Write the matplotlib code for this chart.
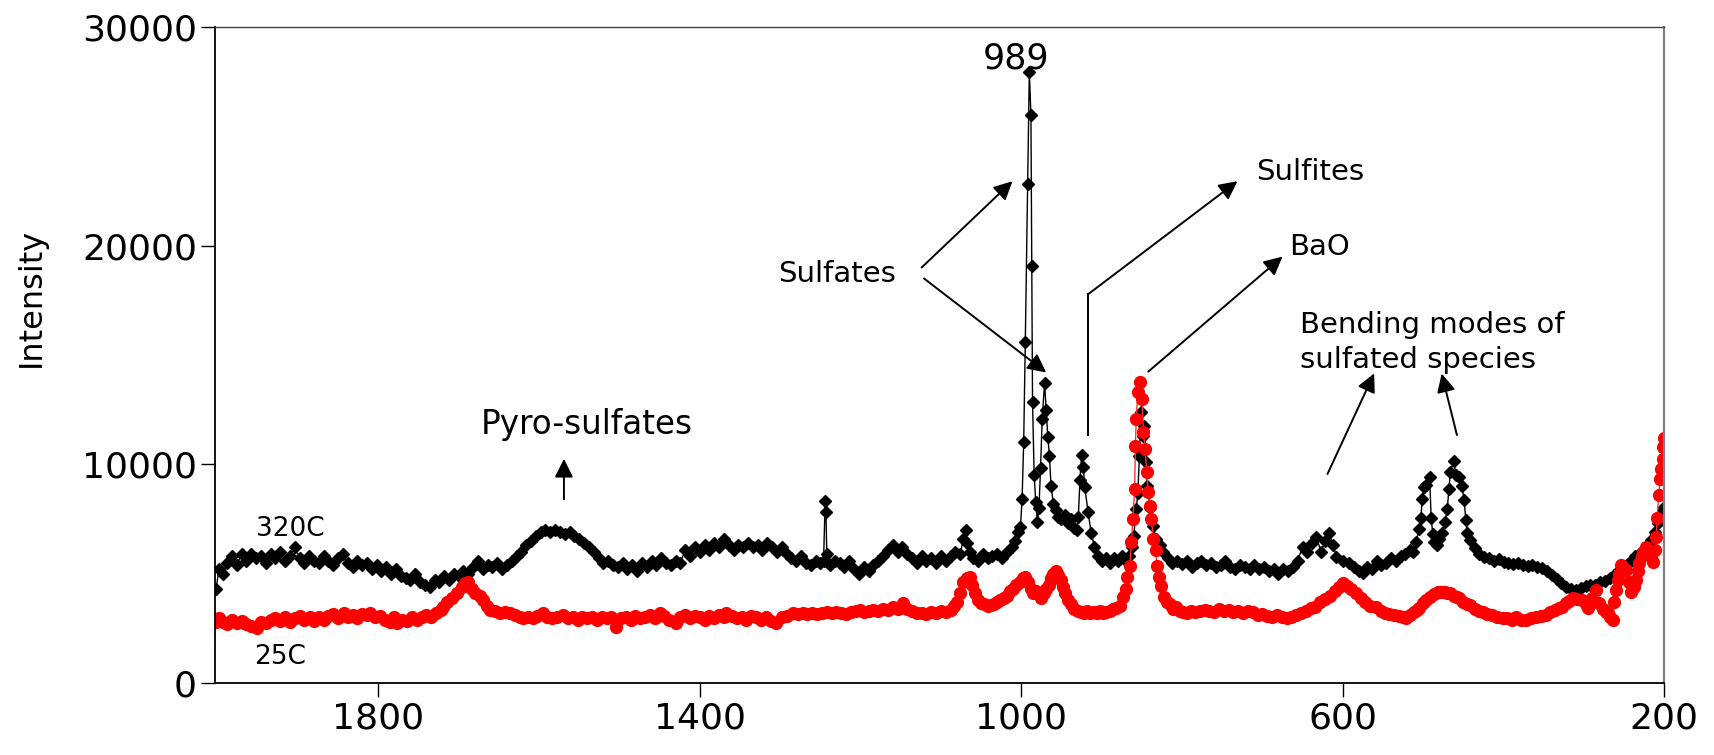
import matplotlib
matplotlib.use('Agg')
from matplotlib import pyplot as plt

# Raman shift (cm-1) and intensity, 320C spectrum
x_320 = [2002, 1998, 1993, 1988, 1982, 1976, 1970, 1964, 1958, 1952, 1946, 1940, 1934, 1928, 1922, 1916,
         1910, 1904, 1898, 1892, 1886, 1880, 1874, 1868, 1862, 1856, 1850, 1844, 1838, 1832, 1826, 1820,
         1814, 1808, 1802, 1796, 1790, 1784, 1778, 1772, 1766, 1760, 1754, 1748, 1742, 1736, 1730, 1724,
         1718, 1712, 1706, 1700, 1694, 1688, 1682, 1676, 1670, 1664, 1658, 1652, 1646, 1640, 1634, 1628,
         1622, 1616, 1610, 1604, 1598, 1592, 1586, 1580, 1574, 1568, 1562, 1556, 1550, 1544, 1538, 1532,
         1526, 1520, 1514, 1508, 1502, 1496, 1490, 1484, 1478, 1472, 1466, 1460, 1454, 1448, 1442, 1436,
         1430, 1424, 1418, 1412, 1406, 1400, 1394, 1388, 1382, 1376, 1370, 1364, 1358, 1352, 1346, 1340,
         1334, 1328, 1322, 1316, 1310, 1304, 1298, 1292, 1286, 1280, 1274, 1268, 1262, 1256, 1250, 1246,
         1244, 1243, 1242, 1238, 1232, 1226, 1220, 1214, 1208, 1202, 1196, 1190, 1184, 1178, 1172, 1166,
         1160, 1154, 1148, 1142, 1136, 1130, 1124, 1118, 1112, 1106, 1100, 1094, 1088, 1082, 1076, 1072,
         1069, 1067, 1064, 1060, 1054, 1048, 1042, 1036, 1030, 1024, 1018, 1012, 1008, 1004, 1001, 999,
         997, 995, 992, 990, 988, 987, 986, 984, 982, 980, 978, 976, 974, 971, 969, 967,
         965, 963, 960, 957, 954, 950, 946, 942, 938, 934, 931, 929, 927, 925, 923, 921,
         917, 913, 909, 905, 900, 895, 890, 885, 880, 875, 870, 866, 862, 860, 857, 855,
         853, 851, 849, 847, 845, 843, 840, 836, 832, 828, 824, 818, 812, 806, 800, 794,
         788, 782, 776, 770, 764, 758, 752, 746, 740, 734, 728, 722, 716, 710, 704, 698,
         692, 686, 680, 674, 668, 662, 656, 650, 644, 638, 633, 627, 622, 617, 612, 608,
         600, 592, 586, 580, 575, 570, 564, 558, 552, 546, 540, 534, 528, 522, 517, 513,
         509, 505, 503, 501, 499, 496, 492, 490, 488, 486, 483, 480, 476, 473, 470, 468,
         466, 462, 459, 455, 452, 449, 447, 445, 442, 436, 430, 424, 418, 412, 406, 400,
         394, 388, 382, 376, 370, 364, 358, 352, 346, 340, 334, 328, 322, 316, 310, 304,
         298, 292, 286, 280, 274, 268, 262, 256, 250, 245, 240, 236, 232, 228, 224, 220,
         216, 212, 208, 205, 202, 200]
y_320 = [4300, 5200, 5000, 5500, 5800, 5400, 5900, 5600, 5900, 5700, 5800, 5500, 5900, 5700, 6000, 5600,
         5800, 6200, 5700, 5500, 5800, 5600, 5500, 5800, 5600, 5400, 5700, 5900, 5500, 5300, 5600, 5400,
         5500, 5200, 5400, 5100, 5300, 5000, 5200, 4900, 4800, 4700, 5000, 4600, 4500, 4400, 4700, 4600,
         4900, 4700, 5000, 4900, 5100, 5000, 5300, 5600, 5200, 5400, 5300, 5500, 5200, 5400, 5600, 5800,
         6000, 6300, 6500, 6700, 6900, 7000, 6900, 7000, 6900, 6800, 6900, 6700, 6600, 6400, 6200, 6000,
         5700, 5500, 5600, 5400, 5300, 5500, 5200, 5400, 5100, 5500, 5300, 5600, 5400, 5700, 5500, 5400,
         5600, 5500, 6100, 5800, 6200, 6000, 6300, 6100, 6400, 6200, 6600, 6300, 6100, 6300, 6200, 6400,
         6200, 6300, 6100, 6400, 6200, 6000, 6200, 5900, 5700, 5600, 5800, 5500, 5400, 5600, 5500, 5600,
         8300, 7800, 5900, 5400, 5600, 5500, 5300, 5600, 5200, 5000, 5300, 5100, 5400, 5600, 5800, 6100,
         6300, 6000, 6200, 5900, 5700, 5500, 5800, 5600, 5700, 5500, 5800, 5600, 5800, 6000, 5900, 6600,
         7000, 6400, 6000, 5700, 5600, 5900, 5700, 5800, 5900, 5700, 6000, 6200, 6500, 6900, 7150, 8410,
         11020, 15610, 22820, 27955, 25975, 19070, 12850, 9510, 8290, 7380, 8000, 9850, 12070, 13720, 12500, 11265,
         10395, 9000, 8200, 7900, 7600, 7500, 7700, 7300, 7500, 7100, 7000, 7600, 9300, 10425, 9900, 8980,
         7830, 6860, 6235, 5800, 5600, 5700, 5500, 5700, 5600, 5800, 5600, 5800, 6235, 6735, 7955, 8675,
         10395, 12400, 11310, 11770, 10090, 9000, 8000, 7200, 6585, 6300, 5975, 5700, 5500, 5600, 5450, 5600,
         5300, 5500, 5600, 5400, 5500, 5300, 5400, 5600, 5300, 5200, 5400, 5300, 5200, 5400, 5200, 5300,
         5100, 5200, 5000, 5200, 5100, 5300, 5600, 6235, 6000, 6400, 6690, 6000, 6500, 6845, 6300, 5775,
         5600, 5475, 5300, 5100, 5015, 5300, 5200, 5600, 5400, 5500, 5700, 5600, 5800, 5900, 6080, 6005,
         6435, 7040, 7530, 8400, 8950, 9055, 9435, 7530, 6800, 6460, 6310, 6600, 6845, 7350, 7955, 8870,
         9665, 10150, 9500, 9435, 9010, 8370, 7455, 6845, 6540, 6160, 5900, 5775, 5700, 5600, 5650, 5550,
         5500, 5450, 5500, 5400, 5350, 5400, 5300, 5250, 5100, 4940, 4750, 4550, 4400, 4300, 4250, 4350,
         4450, 4480, 4500, 4600, 4650, 4800, 4950, 5150, 5300, 5450, 5625, 5800, 5900, 6000, 6080, 6300,
         6540, 6900, 7300, 7600, 7900, 8060]

# 25C spectrum
x_25 = [2002, 1998, 1993, 1988, 1982, 1976, 1970, 1964, 1958, 1951, 1946, 1940, 1934, 1928, 1922, 1916,
        1910, 1904, 1898, 1892, 1885, 1880, 1874, 1868, 1862, 1856, 1850, 1843, 1838, 1832, 1826, 1820,
        1814, 1810, 1804, 1798, 1792, 1786, 1780, 1777, 1770, 1764, 1758, 1752, 1746, 1740, 1734, 1728,
        1722, 1719, 1714, 1708, 1702, 1696, 1692, 1688, 1684, 1680, 1674, 1670, 1665, 1661, 1655, 1648,
        1642, 1636, 1630, 1624, 1620, 1614, 1608, 1602, 1595, 1590, 1584, 1578, 1570, 1564, 1558, 1552,
        1546, 1540, 1534, 1528, 1522, 1516, 1510, 1504, 1498, 1492, 1486, 1480, 1474, 1468, 1462, 1456,
        1450, 1444, 1438, 1430, 1424, 1418, 1412, 1406, 1400, 1394, 1388, 1382, 1376, 1370, 1367, 1360,
        1354, 1348, 1342, 1336, 1330, 1324, 1318, 1312, 1305, 1298, 1292, 1284, 1278, 1272, 1266, 1260,
        1254, 1248, 1242, 1236, 1230, 1224, 1218, 1212, 1206, 1201, 1196, 1190, 1184, 1178, 1172, 1166,
        1160, 1154, 1147, 1142, 1136, 1130, 1124, 1118, 1112, 1106, 1100, 1094, 1088, 1084, 1080, 1076,
        1072, 1068, 1064, 1061, 1058, 1054, 1050, 1046, 1042, 1038, 1034, 1030, 1026, 1022, 1018, 1014,
        1010, 1006, 1002, 998, 995, 992, 988, 985, 982, 978, 975, 972, 969, 966, 963, 960,
        957, 954, 951, 948, 945, 942, 938, 934, 930, 926, 922, 918, 914, 910, 906, 902,
        898, 894, 890, 886, 882, 877, 873, 870, 868, 865, 863, 861, 859, 858, 857, 855,
        852, 850, 848, 846, 844, 842, 840, 838, 836, 833, 831, 829, 826, 823, 819, 815,
        811, 807, 803, 799, 794, 789, 784, 778, 772, 766, 760, 754, 748, 742, 736, 730,
        724, 718, 712, 706, 700, 694, 688, 682, 676, 670, 664, 658, 652, 646, 640, 634,
        628, 622, 616, 610, 605, 600, 595, 590, 583, 577, 572, 566, 559, 553, 548, 542,
        536, 530, 525, 521, 516, 512, 508, 505, 500, 496, 492, 486, 482, 478, 473, 470,
        467, 462, 458, 455, 450, 446, 442, 436, 430, 426, 420, 414, 408, 401, 396, 390,
        384, 378, 372, 366, 360, 354, 347, 342, 336, 331, 327, 322, 318, 314, 308, 302,
        298, 295, 290, 285, 281, 276, 272, 270, 267, 264, 262, 260, 258, 256, 254, 251,
        248, 244, 241, 238, 235, 233, 231, 228, 226, 223, 220, 217, 214, 212, 210, 209,
        207, 205, 204, 202, 201, 200]
y_25 = [2800, 2960, 2800, 2700, 2900, 2730, 2850, 2700, 2600, 2500, 2800, 2750, 2900, 2960, 2850, 3000,
        2800, 2950, 3050, 2900, 3030, 2850, 3000, 2900, 3050, 3150, 2950, 3185, 3000, 3100, 2950, 3150,
        3100, 3185, 3000, 3050, 2900, 2800, 3000, 2730, 2900, 2850, 3000, 2900, 3030, 3100, 3000, 3200,
        3350, 3490, 3700, 3900, 4100, 4400, 4550, 4630, 4300, 4100, 4000, 3795, 3500, 3340, 3300, 3200,
        3250, 3185, 3100, 3000, 2960, 3000, 2950, 3050, 3185, 3000, 2950, 3000, 3100, 2950, 3000, 2900,
        3000, 2950, 3000, 2900, 3000, 2950, 3000, 2575, 2950, 3000, 2900, 3050, 2950, 3000, 3100, 2950,
        3185, 3050, 2900, 2730, 3000, 3100, 2950, 3050, 3000, 2900, 3050, 2950, 3100, 3000, 3185, 3050,
        2950, 3000, 2900, 3050, 3000, 2900, 3000, 2850, 2730, 3000, 3050, 3185, 3150, 3200, 3150, 3200,
        3150, 3200, 3250, 3200, 3250, 3200, 3150, 3250, 3300, 3340, 3250, 3300, 3350, 3300, 3400, 3350,
        3490, 3400, 3645, 3400, 3300, 3185, 3200, 3150, 3250, 3200, 3300, 3250, 3350, 3500, 3700, 4100,
        4600, 4800, 4850, 4500, 4100, 3800, 3650, 3600, 3500, 3550, 3600, 3700, 3800, 3900, 4000, 4200,
        4300, 4500, 4600, 4800, 4850, 4600, 4300, 4100, 4200, 4050, 3900, 4100, 4300, 4500, 4800, 5000,
        5100, 4950, 4700, 4400, 4100, 3800, 3600, 3400, 3300, 3250, 3200, 3300, 3200, 3250, 3200, 3300,
        3200, 3250, 3300, 3400, 3450, 3500, 3950, 4300, 4860, 5365, 6430, 7500, 8870, 10850, 12070, 13320,
        13780, 12990, 11460, 10700, 9635, 8720, 8110, 7500, 6585, 6080, 5365, 4860, 4450, 3950, 3700, 3600,
        3400, 3490, 3300, 3250, 3200, 3300, 3250, 3300, 3350, 3300, 3250, 3400, 3300, 3350, 3250, 3300,
        3200, 3300, 3250, 3100, 3150, 3050, 3000, 3100, 3030, 2950, 3000, 3100, 3200, 3300, 3450, 3490,
        3700, 3850, 4000, 4200, 4400, 4560, 4450, 4300, 4100, 3900, 3700, 3500, 3490, 3300, 3200, 3150,
        3100, 3050, 3030, 2960, 3100, 3250, 3350, 3415, 3650, 3800, 3950, 4050, 4150, 4175, 4150, 4100,
        4100, 4000, 3950, 3870, 3700, 3600, 3565, 3400, 3300, 3260, 3150, 3100, 3000, 2960, 2950, 2900,
        3000, 2900, 2880, 2950, 3000, 3050, 3110, 3250, 3350, 3450, 3490, 3650, 3750, 3870, 3850, 3795,
        3600, 3415, 3900, 4250, 3645, 3400, 3250, 3185, 3000, 2880, 3720, 4250, 4730, 5000, 5400, 5300,
        5170, 4600, 4175, 4400, 4710, 5100, 5475, 5800, 6000, 6235, 6000, 5800, 5550, 6100, 6690, 7530,
        8600, 9315, 9770, 10230, 10800, 11190]

y_ticks = [0, 10000, 20000, 30000]
x_ticks = [1800, 1400, 1000, 600, 200]

fig = plt.figure(figsize=(17.14, 7.55), dpi=100)
ax = fig.add_axes([0.1255, 0.0954, 0.8455, 0.8688])

ax.plot(x_320, y_320, color='black', lw=1.0, marker='D', markersize=6,
        markerfacecolor='black', markeredgecolor='black')
ax.plot(x_25, y_25, color='#ff3030', lw=1.0, marker='o', markersize=8.5,
        markerfacecolor='#ff0000', markeredgecolor='#ff0000')

ax.set_xlim(2003, 200)
ax.set_ylim(0, 30000)
ax.set_xticks(x_ticks)
ax.set_yticks(y_ticks)
ax.tick_params(direction='out', length=10, width=1.0, pad=3, labelsize=26)

for side in ['left', 'bottom']:
    ax.spines[side].set_linewidth(1.3)
    ax.spines[side].set_color('black')
ax.spines['top'].set_color('#404040')
ax.spines['top'].set_linewidth(1.0)
ax.spines['right'].set_color('#808080')
ax.spines['right'].set_linewidth(1.6)

fig.text(31 / 1714, 1 - 297 / 755, 'Intensity', rotation=90, ha='center', va='center', fontsize=23)

arrow = dict(arrowstyle='-|>', color='black', lw=1.4, mutation_scale=28, shrinkA=0, shrinkB=0)

ax.text(1006, 28110, '989', ha='center', va='baseline', fontsize=25)

ax.text(1229, 18340, 'Sulfates', ha='center', va='baseline', fontsize=21)
ax.annotate('', xy=(1011, 22950), xytext=(1124, 19000), arrowprops=arrow)
ax.annotate('', xy=(969, 14200), xytext=(1121, 18500), arrowprops=arrow)

ax.text(641, 23000, 'Sulfites', ha='center', va='baseline', fontsize=21)
ax.plot([917, 917], [11340, 17775], color='black', lw=1.4)
ax.annotate('', xy=(731, 22950), xytext=(917, 17775), arrowprops=arrow)

ax.text(629, 19570, 'BaO', ha='center', va='baseline', fontsize=21)
ax.annotate('', xy=(675, 19500), xytext=(842, 14240), arrowprops=arrow)

ax.text(653, 15990, 'Bending modes of', ha='left', va='baseline', fontsize=21)
ax.text(653, 14390, 'sulfated species', ha='left', va='baseline', fontsize=21)
ax.annotate('', xy=(561, 14160), xytext=(619, 9560), arrowprops=arrow)
ax.annotate('', xy=(477, 14150), xytext=(458, 11340), arrowprops=arrow)

ax.text(1541, 11390, 'Pyro-sulfates', ha='center', va='baseline', fontsize=23.5)
ax.annotate('', xy=(1569, 10250), xytext=(1569, 8400), arrowprops=arrow)

ax.text(1910, 6720, '320C', ha='center', va='baseline', fontsize=19)
ax.text(1922, 870, '25C', ha='center', va='baseline', fontsize=19)

fig.savefig('out.png', dpi=100)
